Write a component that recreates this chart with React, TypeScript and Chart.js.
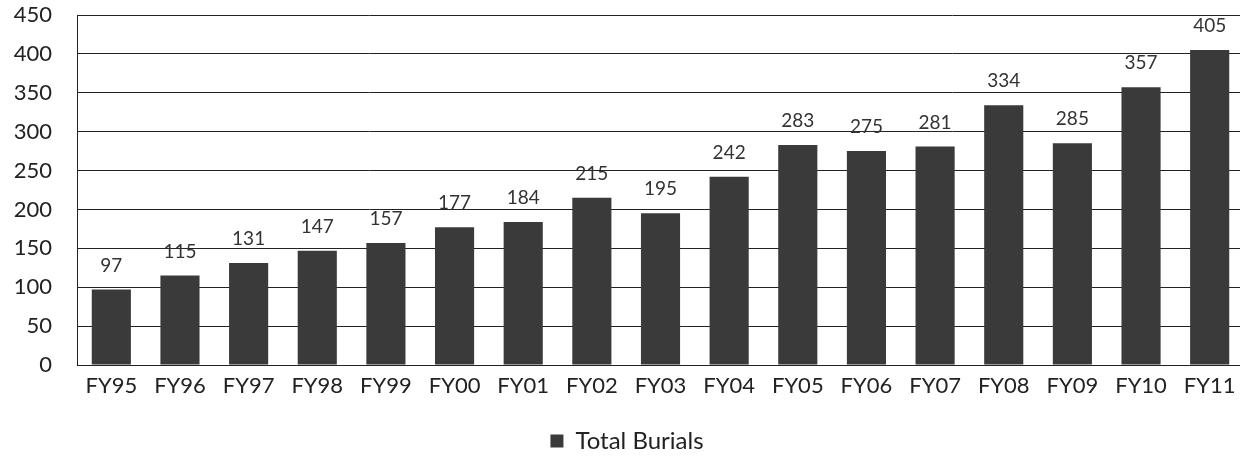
import React, { useEffect, useRef } from "react";
import { Chart, registerables } from "chart.js";

Chart.register(...registerables);

const categories = ["FY95", "FY96", "FY97", "FY98", "FY99", "FY00", "FY01", "FY02", "FY03", "FY04", "FY05", "FY06", "FY07", "FY08", "FY09", "FY10", "FY11"];
const totalBurials = [97, 115, 131, 147, 157, 177, 184, 215, 195, 242, 283, 275, 281, 334, 285, 357, 405];
const seriesLabel = "Total Burials";
const yMin = 0;
const yMax = 450;
const yStep = 50;

const FONT = "Lato, 'Open Sans', sans-serif";

const valueLabels = {
  id: "valueLabels",
  afterDatasetsDraw(chart: any) {
    const ctx = chart.ctx;
    const meta = chart.getDatasetMeta(0);
    const data = chart.data.datasets[0].data;
    ctx.save();
    ctx.font = `19px ${FONT}`;
    ctx.fillStyle = "#333";
    ctx.textAlign = "center";
    ctx.textBaseline = "middle";
    meta.data.forEach((bar: any, i: number) => {
      ctx.fillText(String(data[i]), bar.x, bar.y - 24);
    });
    ctx.restore();
  },
};

export default function App() {
  const ref = useRef<HTMLCanvasElement | null>(null);
  useEffect(() => {
    if (!ref.current) return;
    const chart = new Chart(ref.current, {
      type: "bar",
      data: {
        labels: categories,
        datasets: [
          {
            label: seriesLabel,
            data: totalBurials,
            backgroundColor: "#3a3a3a",
            borderWidth: 0,
            barPercentage: 0.57,
            categoryPercentage: 1,
          },
        ],
      },
      options: {
        animation: false,
        responsive: false,
        maintainAspectRatio: false,
        layout: { padding: { top: 15, left: 10, right: 6, bottom: -5 } },
        plugins: {
          legend: {
            position: "bottom",
            labels: {
              boxWidth: 13,
              boxHeight: 13,
              padding: 2,
              color: "#222",
              font: { family: FONT, size: 24 },
            },
          },
          tooltip: { enabled: false },
        },
        scales: {
          x: {
            grid: { display: false, drawTicks: false },
            border: { display: true, color: "#222", width: 1 },
            ticks: { color: "#222", font: { family: FONT, size: 22 }, padding: 8, maxRotation: 0, autoSkip: false },
            afterFit: (scale: any) => { scale.height = 62; scale.paddingLeft = 0; scale.paddingRight = 0; },
          },
          y: {
            min: yMin,
            max: yMax,
            grid: { color: "#222", lineWidth: 1, drawTicks: false },
            border: { display: true, color: "#222", width: 1 },
            ticks: { stepSize: yStep, color: "#222", font: { family: FONT, size: 22 }, padding: 25 },
            afterFit: (scale: any) => { scale.width = 67; scale.paddingTop = 0; scale.paddingBottom = 0; },
          },
        },
      },
      plugins: [valueLabels],
    });
    return () => chart.destroy();
  }, []);
  return (
    <div style={{ position: "absolute", left: 0, top: 0, width: 1240, height: 458, overflow: "hidden", background: "#fff" }}>
      <canvas ref={ref} width={1250} height={458} style={{ display: "block" }} />
    </div>
  );
}
